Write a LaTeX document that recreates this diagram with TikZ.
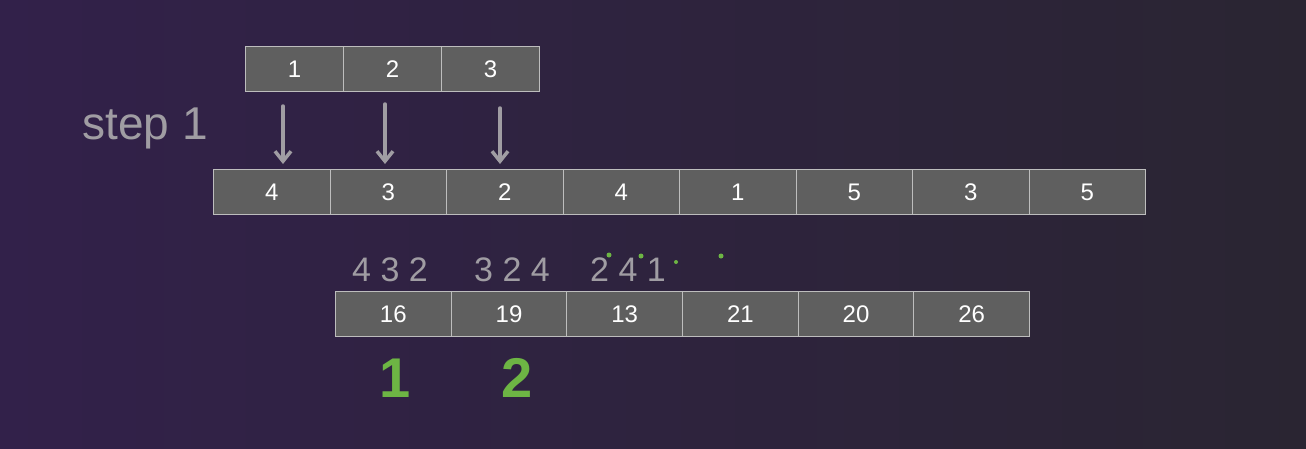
\documentclass[tikz,border=0pt]{standalone}
\usepackage{fontspec}
\setmainfont{Liberation Sans}
\usetikzlibrary{arrows.meta}
\definecolor{bgA}{HTML}{32214A}
\definecolor{bgB}{HTML}{2A2532}
\definecolor{cellfill}{HTML}{5F5F5F}
\definecolor{cellline}{HTML}{BDBDBD}
\definecolor{hand}{HTML}{A09DA3}
\definecolor{tick}{HTML}{6DB544}
\begin{document}
\begin{tikzpicture}[x=1pt,y=-1pt,
  cell/.style={draw=cellline, line width=1pt, fill=cellfill, minimum height=45pt,
    inner sep=0pt, text=white, font=\fontsize{24}{24}\selectfont, anchor=north west},
  handtext/.style={text=hand, inner sep=0pt, font=\fontsize{34}{34}\selectfont},
  greentext/.style={text=tick, inner sep=0pt, font=\fontsize{56}{56}\selectfont\bfseries},
  handarrow/.style={draw=hand, line width=3.5pt, line cap=round,
    -{Straight Barb[length=10pt,width=16pt,line width=3.5pt]}}]
\fill[left color=bgA, right color=bgB] (0,0) rectangle (1306,448);
\useasboundingbox (0,0) rectangle (1306,448);
% top array
\foreach \v [count=\i] in {1,2,3}
  \node[cell, minimum width=98pt] (t\i) at ({245+98*(\i-1)},46) {\v};
% middle array
\foreach \v [count=\i] in {4,3,2,4,1,5,3,5}
  \node[cell, minimum width=116.5pt] (m\i) at ({213+116.5*(\i-1)},169) {\v};
% bottom array
\foreach \v [count=\i] in {16,19,13,21,20,26}
  \node[cell, minimum width=115.67pt] (b\i) at ({335+115.67*(\i-1)},291) {\v};
% step label
\node[handtext, font=\fontsize{46}{46}\selectfont] (step) at (145,128) {step 1};
% arrows
\coordinate (a1) at (283,106);
\coordinate (a2) at (385,104);
\coordinate (a3) at (500,108);
\draw[handarrow] (a1) -- ([yshift=5pt]a1 |- m1.north);
\draw[handarrow] (a2) -- ([yshift=5pt]a2 |- m2.north);
\draw[handarrow] (a3) -- ([yshift=5pt]a3 |- m3.north);
% handwritten sequences
\node[handtext] (h1) at (390,270) {4 3 2};
\node[handtext] (h2) at (512,270) {3 2 4};
\node[handtext] (h3) at (628,270) {2 4 1};
\fill[tick] (609,255) circle (2.5pt);
\fill[tick] (641,256) circle (2.5pt);
\fill[tick] (676,262) circle (2pt);
\fill[tick] (721,256) circle (2.5pt);
% green labels
\node[greentext] (g1) at (395,378) {1};
\node[greentext] (g2) at (517,378) {2};
\end{tikzpicture}
\end{document}
